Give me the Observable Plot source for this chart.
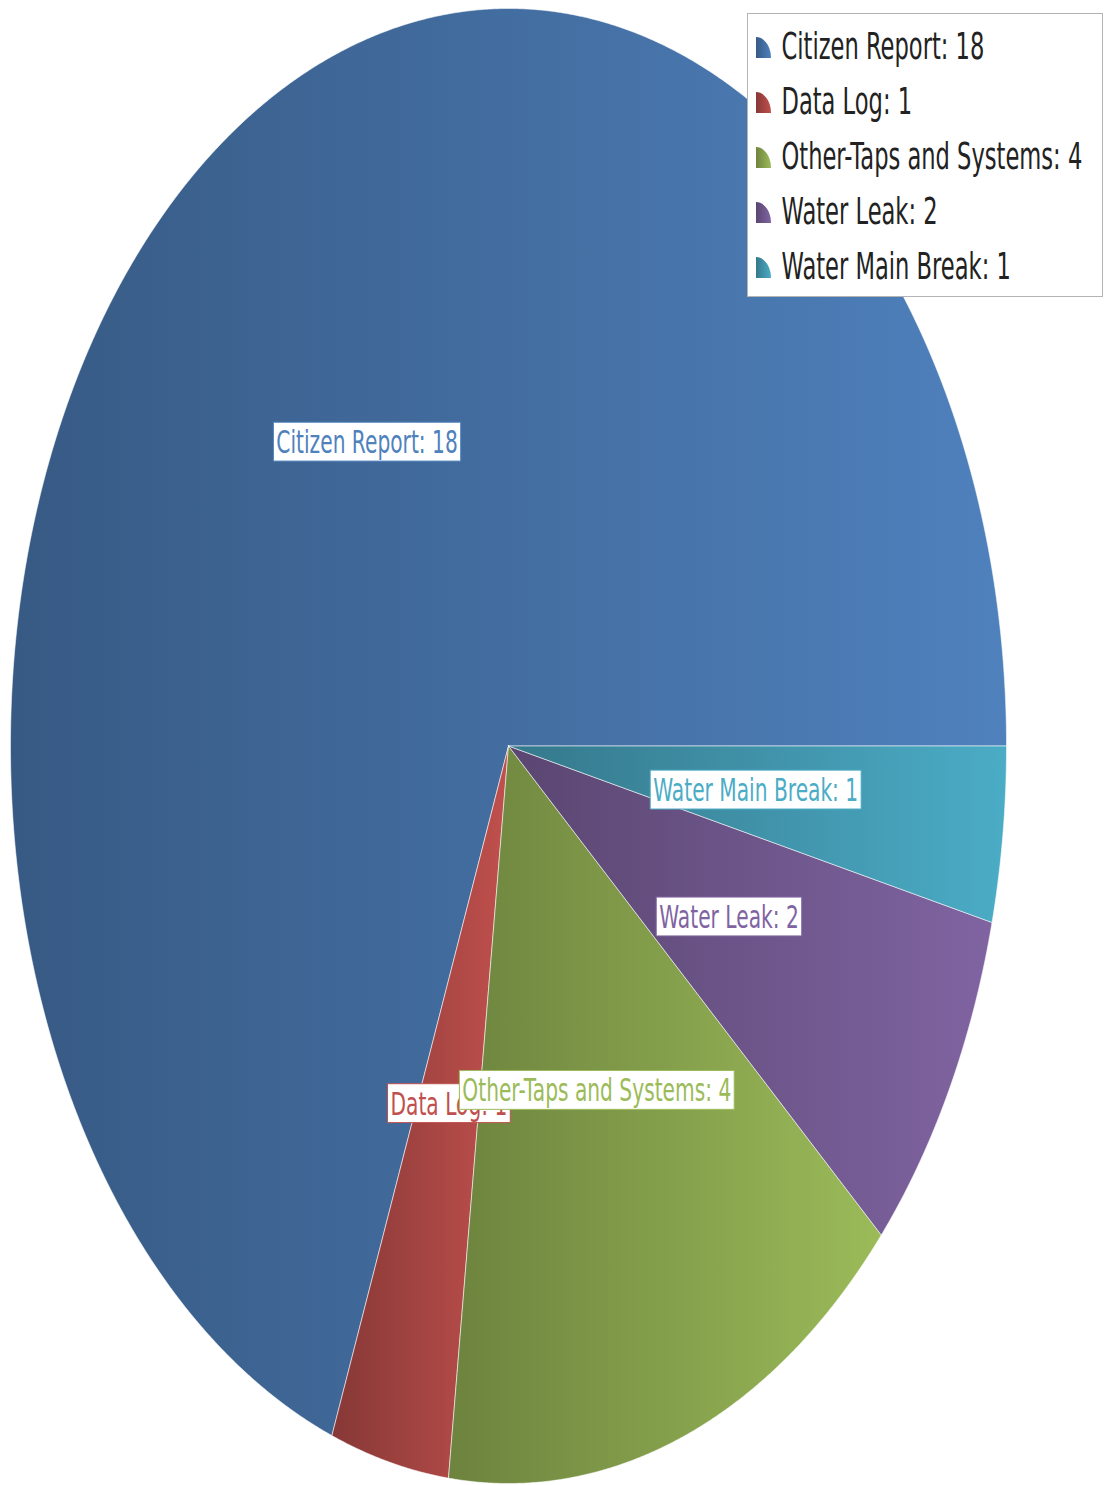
<!DOCTYPE html>
<html>
<head>
<meta charset="utf-8">
<script src="https://cdn.jsdelivr.net/npm/d3@7"></script>
<script src="https://cdn.jsdelivr.net/npm/@observablehq/plot@0.6"></script>
<style>
  html, body { margin: 0; padding: 0; background: #fff; }
  #wrap { position: relative; width: 1107px; height: 1485px; }
  #legend { position: absolute; left: 747px; top: 13px; width: 354px; height: 282px;
            border: 1px solid #b4b4b4; background: #fff; }
  #legend svg, #chart svg { display: block; }
</style>
</head>
<body>
<div id="wrap">
  <div id="chart"></div>
  <div id="legend"></div>
</div>
<script>
// ---- data ----
const categories = ["Citizen Report", "Data Log", "Other-Taps and Systems", "Water Leak", "Water Main Break"];
const values = [18, 1, 4, 2, 1];
const palette = ["#4F81BD", "#C0504D", "#9BBB59", "#8064A2", "#4BACC6"];

const FONT = "DejaVu Sans, Verdana, sans-serif";
const K = 1.62; // vertical stretch of the text
const total = d3.sum(values);

let acc = 0;
const slices = categories.map((name, i) => {
  const a0 = acc / total * 2 * Math.PI;
  acc += values[i];
  const a1 = acc / total * 2 * Math.PI;
  return {name, value: values[i], color: palette[i], a0, a1, mid: (a0 + a1) / 2, i};
});

function slicePoints(s) {
  const n = Math.max(2, Math.ceil((s.a1 - s.a0) / (Math.PI / 720)));
  const pts = [{x: 0, y: 0}];
  for (let k = 0; k <= n; k++) {
    const a = s.a0 + (s.a1 - s.a0) * k / n;
    pts.push({x: Math.cos(a), y: Math.sin(a)});
  }
  pts.push({x: 0, y: 0});
  return pts;
}

const chart = Plot.plot({
  width: 1107,
  height: 1485,
  margin: 0,
  x: {domain: [-1, 1], range: [10, 1006], axis: null},
  y: {domain: [-1, 1], range: [1483, 8], axis: null},
  style: {background: "transparent", overflow: "visible"},
  marks: [
    ...slices.map(s => Plot.line(slicePoints(s), {
      x: "x", y: "y", curve: "linear",
      fill: `url(#pie-grad-${s.i})`, stroke: "#ffffff", strokeOpacity: 0.55, strokeWidth: 1
    })),
    ...slices.map(s => Plot.text([s], {
      x: d => 0.5 * Math.cos(d.mid),
      y: d => 0.5 * Math.sin(d.mid),
      text: d => `${d.name}: ${d.value}`,
      fill: s.color, fontSize: 20.2, fontFamily: FONT
    }))
  ]
});
document.getElementById("chart").append(chart);

// gradients
const defs = d3.select(chart).insert("defs", ":first-child");
slices.forEach(s => {
  const c = d3.rgb(s.color);
  const dark = d3.rgb(c.r * 0.7, c.g * 0.7, c.b * 0.7);
  const g = defs.append("linearGradient").attr("id", `pie-grad-${s.i}`)
    .attr("x1", 0).attr("x2", 1).attr("y1", 0).attr("y2", 0);
  g.append("stop").attr("offset", 0).attr("stop-color", dark.formatHex());
  g.append("stop").attr("offset", 1).attr("stop-color", c.formatHex());
});

const NS = "http://www.w3.org/2000/svg";
function stretchTexts(svg, anchors, boxColors) {
  svg.querySelectorAll('g[aria-label="text"] text').forEach((t, i) => {
    const a = anchors[i];
    const g = document.createElementNS(NS, "g");
    t.parentNode.insertBefore(g, t);
    g.appendChild(t);
    if (boxColors) {
      const bb = g.getBBox();
      const r = document.createElementNS(NS, "rect");
      r.setAttribute("x", bb.x - 3);
      r.setAttribute("y", bb.y);
      r.setAttribute("width", bb.width + 6);
      r.setAttribute("height", bb.height);
      r.setAttribute("fill", "#ffffff");
      r.setAttribute("stroke", boxColors[i]);
      r.setAttribute("stroke-width", 1);
      r.setAttribute("vector-effect", "non-scaling-stroke");
      g.insertBefore(r, t);
    }
    g.setAttribute("transform", `translate(${a[0]},${a[1]}) scale(1,${K}) translate(${-a[0]},${-a[1]})`);
  });
}

const sx = chart.scale("x"), sy = chart.scale("y");
stretchTexts(chart,
  slices.map(s => [sx.apply(0.5 * Math.cos(s.mid)), sy.apply(0.5 * Math.sin(s.mid))]),
  slices.map(s => s.color));

// ---- legend ----
const quarter = {
  draw(ctx) {
    const w = 15, h = 21, k = 0.5523;
    ctx.moveTo(-w / 2, h / 2);
    ctx.lineTo(-w / 2, -h / 2);
    ctx.bezierCurveTo(-w / 2 + k * w, -h / 2, w / 2, h / 2 - k * h, w / 2, h / 2);
    ctx.closePath();
  }
};

const legend = Plot.plot({
  width: 354,
  height: 282,
  margin: 0,
  x: {domain: [0, 354], range: [0, 354], axis: null},
  y: {type: "point", domain: categories, range: [33, 253], padding: 0, axis: null},
  style: {background: "transparent", overflow: "visible"},
  marks: [
    ...slices.map(s => Plot.dot([s], {x: () => 15, y: "name", symbol: quarter, r: 8, fill: `url(#pie-grad-${s.i})`, stroke: "none"})),
    Plot.text(slices, {x: () => 33, y: "name", text: d => `${d.name}: ${d.value}`,
      textAnchor: "start", fill: "#222222", fontSize: 22.6, fontFamily: FONT})
  ]
});
document.getElementById("legend").append(legend);
const ly = legend.scale("y");
stretchTexts(legend, slices.map(s => [33, ly.apply(s.name)]), null);
</script>
</body>
</html>
